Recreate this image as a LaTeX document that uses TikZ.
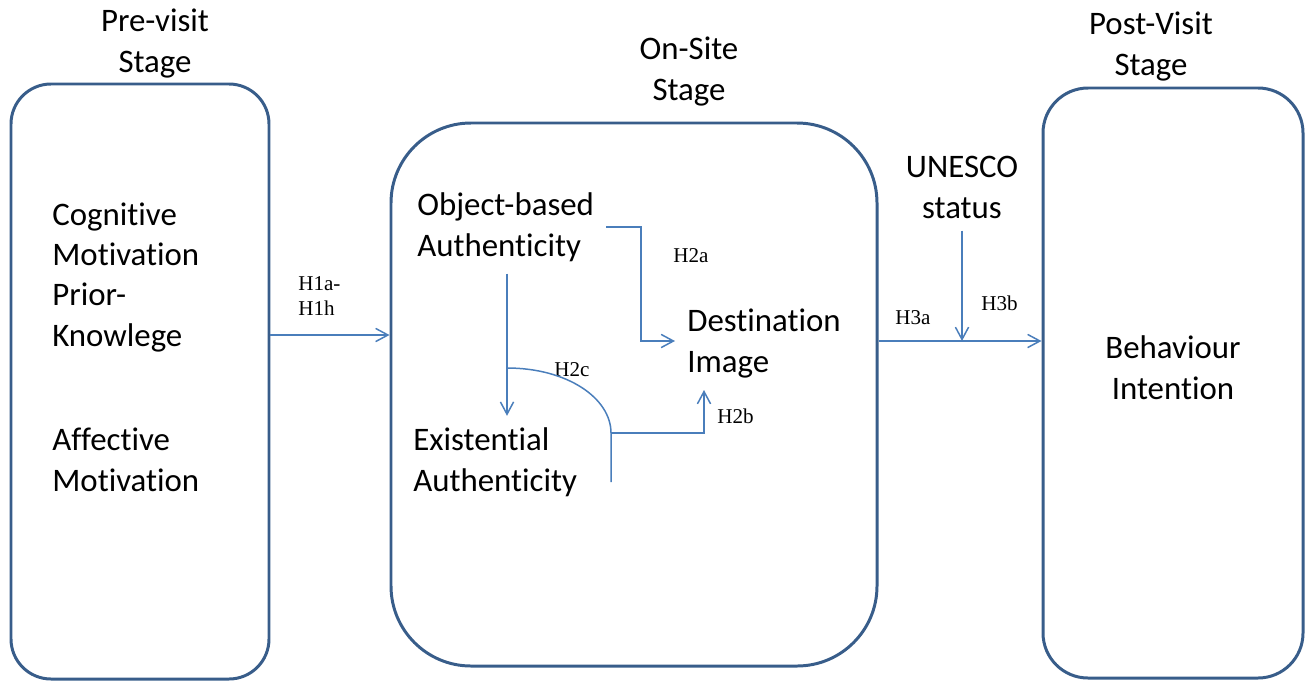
\documentclass[tikz,border=0pt]{standalone}
\usepackage{fontspec}
\setmainfont{Carlito}[Ligatures=NoCommon]
\newfontfamily\hypfont{Liberation Serif}
\usetikzlibrary{arrows.meta,fit}

\definecolor{boxblue}{RGB}{56,93,138}
\definecolor{linkblue}{RGB}{74,126,187}

\tikzset{
  stage/.style={draw=boxblue,line width=1.7pt,inner sep=0pt},
  txt/.style={align=left,anchor=base west,inner sep=0.24cm,
    font=\fontsize{18.7}{22.8}\selectfont},
  ctxt/.style={align=center,anchor=base,inner sep=0.24cm,
    font=\fontsize{18.7}{22.8}\selectfont},
  hyp/.style={align=left,anchor=base west,inner sep=0pt,
    font=\hypfont\fontsize{12}{14.2}\selectfont},
  wire/.style={draw=linkblue,line width=0.85pt},
  link/.style={wire,-{Straight Barb[length=7pt,width=7.5pt]}},
}

\begin{document}
\begin{tikzpicture}[x=0.02cm,y=-0.02cm]
  \useasboundingbox (0,0) rectangle (1311,680);

  % the three stages
  \node[stage,rounded corners=0.8cm,fit={(11,84) (269,679)}] (pre) {};
  \node[stage,rounded corners=1.6cm,fit={(391,123) (877,666)}] (onsite) {};
  \node[stage,rounded corners=0.9cm,fit={(1043,88) (1303,678)}] (post) {};

  \node[ctxt] (prehead) at (155,72) {Pre-visit\\Stage};
  \node[ctxt] (onhead) at (689,100) {On-Site\\Stage};
  \node[ctxt] (posthead) at (1151,75) {Post-Visit\\Stage};

  % constructs
  \node[txt] (cogn) at (40,346) {Cognitive\\Motivation\\Prior-\\Knowlege};
  \node[txt] (affect) at (40,491) {Affective\\Motivation};
  \node[txt] (obj) at (405,256) {Object-based\\Authenticity};
  \node[txt] (dest) at (675,372) {Destination\\Image};
  \node[txt] (exist) at (401,491) {Existential\\Authenticity};
  \node[ctxt] (unesco) at (962,218) {UNESCO\\status};
  \node[ctxt] (behav) at (1173,399) {Behaviour\\Intention};

  % hypotheses
  \node[hyp] (h1lab) at (298,315) {H1a-\\H1h};
  \node[hyp] (h2alab) at (673,262) {H2a};
  \node[hyp] (h2blab) at (717,423) {H2b};
  \node[hyp] (h2clab) at (554,376) {H2c};
  \node[hyp] (h3alab) at (895,324) {H3a};
  \node[hyp] (h3blab) at (981,310) {H3b};

  \coordinate (h1) at (0,335);
  \coordinate (h2a) at (641,341);
  \coordinate (h2c) at (507,368);
  \coordinate (bend) at (611,433);
  \coordinate (h2b) at (704,0);
  \coordinate (h3) at (0,341);

  \draw[link] (pre.east |- h1) -- (onsite.west |- h1);
  \draw[link] (obj.east) -| (h2a) -- (dest.west |- h2a);
  \draw[link] (obj.south -| h2c) -- (exist.north -| h2c);
  \draw[wire] (h2c) .. controls +(60,0) and +(0,-35) .. (bend) -- ++(0,49);
  \draw[link] (bend) -| (dest.south -| h2b);
  \draw[link] (onsite.east |- h3) -- (post.west |- h3);
  \draw[link] (unesco.south) -- (unesco.south |- h3);
\end{tikzpicture}
\end{document}
